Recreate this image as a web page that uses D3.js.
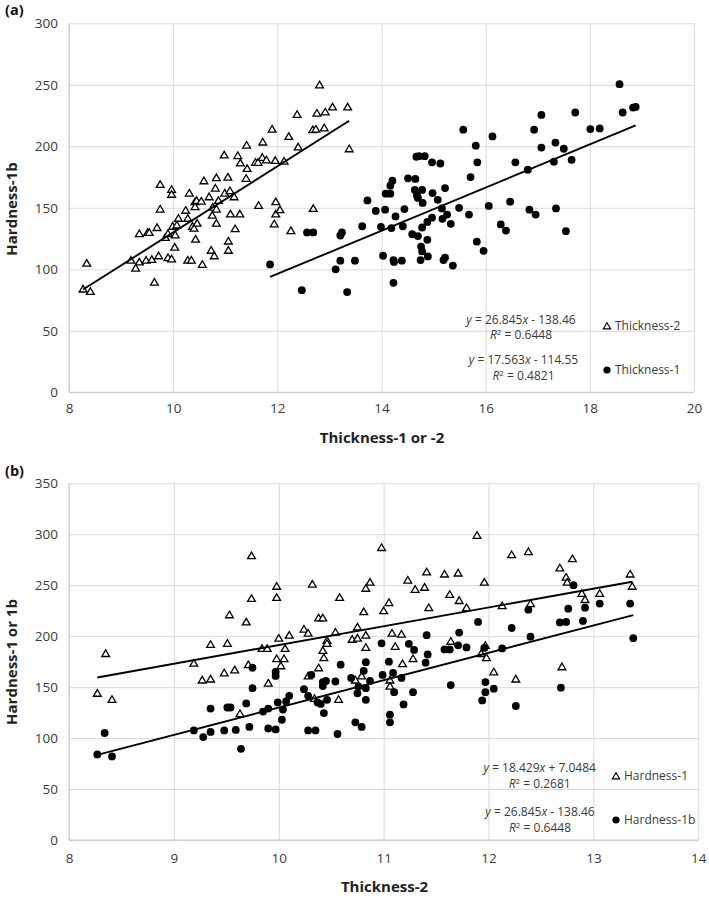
<!DOCTYPE html>
<html>
<head>
<meta charset="utf-8">
<script src="https://cdn.jsdelivr.net/npm/d3@7"></script>
<style>
body { margin: 0; background: #fff; }
svg { display: block; font-family: "Open Sans", sans-serif; }
</style>
</head>
<body>
<div id="chart"></div>
<script>
// Thickness-2 vs Hardness-1 (open triangles in b)
const hardness1 = [
  [8.35,183],[8.27,144],[8.41,138],[9.19,173.5],[9.27,157],[9.35,158],[9.35,192],[9.51,193],[9.48,164],[9.58,167],
  [9.53,221],[9.69,214],[9.74,279],[9.74,237],[9.71,172],[9.63,124],[9.84,188],[9.89,188],[9.90,154],[9.98,249],
  [9.98,238],[10.0,198],[10.06,188],[9.98,178],[10.05,178],[10.02,171],[10.10,201],[10.32,251],[10.24,207],[10.28,203],
  [10.38,218],[10.42,218],[10.58,238],[10.46,196],[10.46,193],[10.42,186],[10.43,179],[10.38,169],[10.28,161],[10.34,139],
  [10.57,138],[10.54,204],[10.75,209],[10.70,197],[10.75,198],[10.83,201],[10.83,189],[10.81,224],[10.83,247],[10.87,253],
  [10.98,287],[11.0,225],[10.79,161],[10.73,157],
  [11.89,299],[12.22,280],[12.38,283],[12.68,267],[12.80,276],[12.74,258],[12.75,253],[12.89,242],[12.92,236],[13.06,242],
  [13.35,261],[13.37,249],[11.41,263],[11.58,261],[11.71,262],[11.96,253],[11.23,255],[11.30,246],[11.39,248],[11.63,241],
  [11.72,235],[11.79,228],[11.43,228],[11.05,233],[12.13,230],[12.40,232],[11.08,203],[11.17,202],[11.11,190],[11.28,178],
  [11.18,173],[11.64,195],[11.97,191],[11.93,183],[11.98,179],[12.05,165],[12.26,158],[12.70,170],[11.06,157],[11.06,151]
];

// Thickness-2 vs Hardness-1b (filled circles in b, open triangles in a)
const hardness1b = [
  [8.34,105],[8.27,84],[8.41,82],[9.19,107.5],[9.28,101],[9.35,106],[9.35,129],[9.48,107.5],[9.51,130],[9.54,130],
  [9.59,108],[9.64,89.5],[9.69,134],[9.72,111],[9.75,169],[9.75,149],[9.85,126],[9.90,129],[9.90,109.5],[9.97,108.5],
  [9.97,165],[9.97,161],[9.99,135],[10.03,118],[10.04,128],[10.07,136],[10.10,141.5],[10.24,148],[10.28,141.5],[10.31,162],
  [10.28,107.5],[10.35,107.5],[10.37,135],[10.40,133.5],[10.43,124.5],[10.42,155],[10.42,151],[10.45,156],[10.46,137.5],[10.54,155.5],
  [10.56,104],[10.59,172],[10.69,159],[10.75,144],[10.76,150.5],[10.83,149],[10.83,137.5],[10.81,166],[10.83,174.5],[10.87,156],
  [10.73,115.5],[10.79,111],[10.98,193],[10.99,162],
  [11.05,175],[11.09,164],[11.17,159],[11.10,145],[11.19,133],[11.06,123],[11.06,115.5],[11.24,192.5],[11.29,186.5],[11.28,145],
  [11.41,201],[11.42,182],[11.40,174],[11.58,187],[11.63,187],[11.71,191],[11.72,203.5],[11.79,189],[11.64,152],[11.90,214],
  [11.96,188.5],[11.97,155],[11.97,145],[11.94,137],[12.05,148.5],[12.13,188],[12.22,208],[12.26,131.5],[12.38,226],[12.40,199.5],
  [12.68,213.5],[12.74,214],[12.76,227],[12.69,149.5],[12.81,250],[12.90,215],[12.92,228],[13.06,232],[13.35,232],[13.38,198]
];

// Thickness-1 vs Hardness-1b (filled circles in a)
const thickness1 = [
  [11.86,104],[12.47,83],[12.57,130],[12.69,130],[13.12,100],[13.21,107],[13.21,127.5],[13.24,130],[13.34,81.5],[13.49,107],
  [13.63,135],[13.73,156],[13.89,147.5],[14.03,111],[13.99,134.5],[14.07,148.5],[14.08,161.5],[14.17,161.5],[14.17,168],[14.21,172],
  [14.23,89],[14.19,133.5],[14.24,106],[14.23,107.5],[14.27,143],[14.39,107],[14.41,135],[14.44,149],[14.51,174],[14.65,173.5],
  [14.64,164.5],[14.78,164.5],[14.67,191.5],[14.72,192],[14.83,192],[14.68,160],[14.70,158],[14.79,154],[14.59,128.5],[14.70,127],
  [14.78,134],[14.76,118.5],[14.78,114.5],[14.75,107.5],[14.88,124],[14.88,138.5],[14.89,110.5],[14.97,187],[15.13,186],[14.98,162],
  [15.08,156.5],[14.97,142],[15.16,149.5],[15.17,141],[15.22,166],[15.26,144.5],[15.33,137],[15.19,107.5],[15.22,109.5],[15.37,103],
  [15.49,150],[15.68,144.5],[15.71,175],[15.57,213.5],[15.81,200.5],[15.84,187],[15.83,122.5],
  [15.96,115],[16.06,151.5],[16.13,208],[16.29,136.5],[16.39,131.5],[16.47,155],[16.57,187],[16.81,181],[16.84,148.5],
  [16.96,144.5],[16.93,213.5],[17.07,225.5],[17.07,199],[17.31,187.5],[17.34,203],[17.35,149.5],[17.50,198],[17.54,131],[17.65,189],
  [17.72,227.5],[18.01,214],[18.19,214.5],[18.57,250.5],[18.63,227.5],[18.83,231.5],[18.88,232]
];

// trendline coefficients [slope, intercept] and their R² labels
const trendA = [[26.845, -138.46], [17.563, -114.55]];
const trendB = [[18.429, 7.0484], [26.845, -138.46]];
const eqA = [["26.845", " - 138.46", "0.6448"], ["17.563", " - 114.55", "0.4821"]];
const eqB = [["18.429", " + 7.0484", "0.2681"], ["26.845", " - 138.46", "0.6448"]];
const legendA = ["Thickness-2", "Thickness-1"];
const legendB = ["Hardness-1", "Hardness-1b"];
const xTicksA = [8, 10, 12, 14, 16, 18, 20];
const yTicksA = [0, 50, 100, 150, 200, 250, 300];
const xTicksB = [8, 9, 10, 11, 12, 13, 14];
const yTicksB = [0, 50, 100, 150, 200, 250, 300, 350];

const width = 709, height = 900;
const gridColor = "#d9d9d9";
const textColor = "#3a3a3a";
const triPath = "M0,-3.6L3.9,3L-3.9,3Z";

const svg = d3.select("#chart").append("svg")
  .attr("width", width)
  .attr("height", height);

function drawPanel(p) {
  const x = d3.scaleLinear().domain(p.xDomain).range([p.left, p.right]);
  const y = d3.scaleLinear().domain(p.yDomain).range([p.bottom, p.top]);
  const g = svg.append("g");

  // horizontal gridlines + y labels
  g.append("g")
    .attr("transform", `translate(${p.left},0)`)
    .call(d3.axisLeft(y).tickValues(p.yTicks).tickFormat(d3.format("d"))
      .tickSize(-(p.right - p.left)).tickPadding(11))
    .call(g => g.select(".domain").remove())
    .call(g => g.selectAll(".tick line").attr("stroke", gridColor))
    .call(g => g.selectAll(".tick text").attr("fill", textColor).attr("font-size", 13.5)
      .attr("font-family", "Open Sans"));

  // vertical gridlines + x labels
  g.append("g")
    .attr("transform", `translate(0,${p.bottom})`)
    .call(d3.axisBottom(x).tickValues(p.xTicks).tickFormat(d3.format("d"))
      .tickSize(-(p.bottom - p.top)).tickPadding(p.xPad))
    .call(g => g.select(".domain").remove())
    .call(g => g.selectAll(".tick line").attr("stroke", gridColor))
    .call(g => g.selectAll(".tick text").attr("fill", textColor).attr("font-size", 13.5)
      .attr("font-family", "Open Sans"));

  // axis lines
  g.append("line").attr("x1", p.left).attr("x2", p.right).attr("y1", p.bottom).attr("y2", p.bottom)
    .attr("stroke", "#c8c8c8");
  g.append("line").attr("x1", p.left).attr("x2", p.left).attr("y1", p.top).attr("y2", p.bottom)
    .attr("stroke", "#c8c8c8");

  // open triangles
  g.append("g").selectAll("path").data(p.triangles).join("path")
    .attr("d", triPath)
    .attr("transform", d => `translate(${x(d[0])},${y(d[1])})`)
    .attr("fill", "#fff")
    .attr("stroke", "#000")
    .attr("stroke-width", 1.3);

  // filled circles
  g.append("g").selectAll("circle").data(p.circles).join("circle")
    .attr("cx", d => x(d[0]))
    .attr("cy", d => y(d[1]))
    .attr("r", 3.9)
    .attr("fill", "#000");

  // trendlines over each series' x range
  [p.triangles, p.circles].forEach((s, i) => {
    const [m, b] = p.trends[i];
    const ext = d3.extent(s, d => d[0]);
    g.append("path")
      .datum(ext)
      .attr("fill", "none")
      .attr("stroke", "#000")
      .attr("stroke-width", 1.9)
      .attr("d", d3.line().x(d => x(d)).y(d => y(m * d + b)));
  });

  // equations
  p.eqs.forEach((e, i) => {
    const ty = p.eqY[i];
    const t1 = g.append("text").attr("x", p.eqX[i]).attr("y", ty)
      .attr("text-anchor", "middle").attr("font-size", 12).attr("fill", textColor);
    t1.append("tspan").attr("font-style", "italic").text("y");
    t1.append("tspan").text(" = " + e[0]);
    t1.append("tspan").attr("font-style", "italic").text("x");
    t1.append("tspan").text(e[1]);

    const t2 = g.append("text").attr("x", p.eqX[i]).attr("y", ty + 15.5)
      .attr("text-anchor", "middle").attr("font-size", 12).attr("fill", textColor);
    t2.append("tspan").attr("font-style", "italic").text("R");
    t2.append("tspan").attr("font-size", 8).attr("dy", -4).text("2");
    t2.append("tspan").attr("dy", 4).text(" = " + e[2]);
  });

  // legend
  const lg = g.append("g");
  lg.append("path").attr("d", "M0,-3.3L3.6,2.8L-3.6,2.8Z")
    .attr("transform", `translate(${p.legX},${p.legY[0] - 4})`)
    .attr("fill", "#fff").attr("stroke", "#000").attr("stroke-width", 1.2);
  lg.append("circle").attr("cx", p.legX).attr("cy", p.legY[1] - 4).attr("r", 3.6).attr("fill", "#000");
  p.legend.forEach((t, i) => {
    lg.append("text").attr("x", p.legX + 8).attr("y", p.legY[i])
      .attr("font-size", 12).attr("fill", textColor).text(t);
  });

  // titles
  g.append("text")
    .attr("x", p.xTitleX).attr("y", p.xTitleY)
    .attr("text-anchor", "middle").attr("font-weight", "bold").attr("font-size", 15)
    .attr("fill", "#222").text(p.xTitle);
  g.append("text")
    .attr("transform", `translate(17,${p.yTitleY}) rotate(-90)`)
    .attr("text-anchor", "middle").attr("font-weight", "bold").attr("font-size", 15)
    .attr("fill", "#222").text(p.yTitle);
  g.append("text")
    .attr("x", 5).attr("y", p.tagY)
    .attr("font-weight", "bold").attr("font-size", 14.5)
    .attr("fill", "#111").text(p.tag);
}

drawPanel({
  xDomain: [8, 20], yDomain: [0, 300],
  left: 69, right: 694, top: 23.3, bottom: 392.3, xPad: 11.5,
  xTicks: xTicksA, yTicks: yTicksA,
  triangles: hardness1b, circles: thickness1,
  trends: trendA, eqs: eqA, eqX: [521, 523.5], eqY: [323.5, 364],
  legend: legendA, legX: 607, legY: [330, 374],
  xTitle: "Thickness-1  or -2", xTitleX: 382, xTitleY: 443,
  yTitle: "Hardness-1b", yTitleY: 209,
  tag: "(a)", tagY: 15
});

drawPanel({
  xDomain: [8, 14], yDomain: [0, 350],
  left: 69, right: 698.3, top: 483.3, bottom: 840, xPad: 13.5,
  xTicks: xTicksB, yTicks: yTicksB,
  triangles: hardness1, circles: hardness1b,
  trends: trendB, eqs: eqB, eqX: [539.7, 540], eqY: [772, 816],
  legend: legendB, legX: 616, legY: [780, 824],
  xTitle: "Thickness-2", xTitleX: 384.5, xTitleY: 892,
  yTitle: "Hardness-1 or 1b", yTitleY: 662,
  tag: "(b)", tagY: 476
});
</script>
</body>
</html>
